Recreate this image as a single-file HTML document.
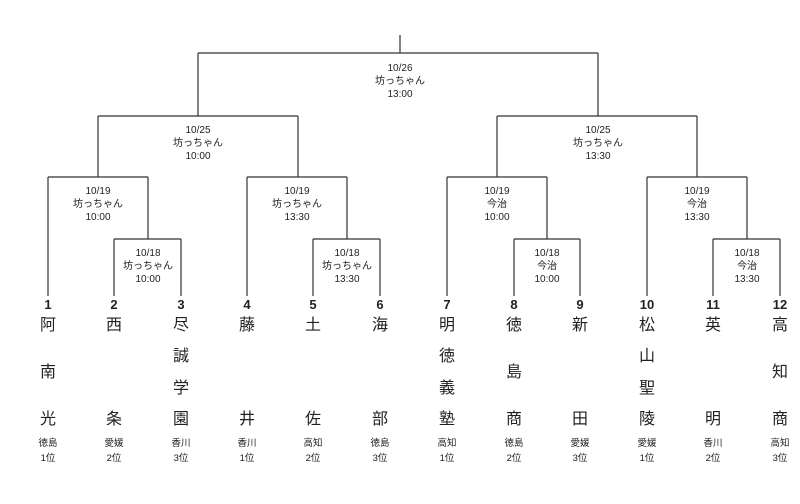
<!DOCTYPE html>
<html><head><meta charset="utf-8"><style>
body{margin:0;background:#fff;}
#c{position:relative;width:800px;height:504px;overflow:hidden;font-family:"Liberation Sans","Noto Sans CJK JP",sans-serif;color:#222;}
.l{position:absolute;width:100px;margin-left:-50px;text-align:center;font-size:10px;line-height:13px;}
.t{position:absolute;width:40px;margin-left:-20px;text-align:center;}
.n{font-size:13px;font-weight:bold;line-height:14px;}
.k{font-size:16px;line-height:18px;}
.p{font-size:9.5px;line-height:15px;}
svg{position:absolute;left:0;top:0;}
</style></head><body><div id="c">
<svg width="800" height="504"><g stroke="#333" stroke-width="1.2" fill="none">
<path d="M400 35V53M198 53H598M198 53V116M598 53V116"/>
<path d="M98 116H298M98 116V177M298 116V177M497 116H697M497 116V177M697 116V177"/>
<path d="M48 177H148M48 177V296M148 177V239M114 239H181M114 239V296M181 239V296"/>
<path d="M247 177H347M247 177V296M347 177V239M313 239H380M313 239V296M380 239V296"/>
<path d="M447 177H547M447 177V296M547 177V239M514 239H580M514 239V296M580 239V296"/>
<path d="M647 177H747M647 177V296M747 177V239M713 239H780M713 239V296M780 239V296"/>
</g></svg>
<div class="l" style="left:400px;top:62px">10/26<br>坊っちゃん<br>13:00</div>
<div class="l" style="left:198px;top:124px">10/25<br>坊っちゃん<br>10:00</div>
<div class="l" style="left:598px;top:124px">10/25<br>坊っちゃん<br>13:30</div>
<div class="l" style="left:98px;top:185px">10/19<br>坊っちゃん<br>10:00</div>
<div class="l" style="left:297px;top:185px">10/19<br>坊っちゃん<br>13:30</div>
<div class="l" style="left:497px;top:185px">10/19<br>今治<br>10:00</div>
<div class="l" style="left:697px;top:185px">10/19<br>今治<br>13:30</div>
<div class="l" style="left:148px;top:247px">10/18<br>坊っちゃん<br>10:00</div>
<div class="l" style="left:347px;top:247px">10/18<br>坊っちゃん<br>13:30</div>
<div class="l" style="left:547px;top:247px">10/18<br>今治<br>10:00</div>
<div class="l" style="left:747px;top:247px">10/18<br>今治<br>13:30</div>

<div class="t n" style="left:48px;top:298px">1</div>
<div class="t n" style="left:114px;top:298px">2</div>
<div class="t n" style="left:181px;top:298px">3</div>
<div class="t n" style="left:247px;top:298px">4</div>
<div class="t n" style="left:313px;top:298px">5</div>
<div class="t n" style="left:380px;top:298px">6</div>
<div class="t n" style="left:447px;top:298px">7</div>
<div class="t n" style="left:514px;top:298px">8</div>
<div class="t n" style="left:580px;top:298px">9</div>
<div class="t n" style="left:647px;top:298px">10</div>
<div class="t n" style="left:713px;top:298px">11</div>
<div class="t n" style="left:780px;top:298px">12</div>

<div class="t k" style="left:48px;top:317px">阿</div><div class="t k" style="left:48px;top:364px">南</div><div class="t k" style="left:48px;top:411px">光</div>
<div class="t k" style="left:114px;top:317px">西</div><div class="t k" style="left:114px;top:411px">条</div>
<div class="t k" style="left:181px;top:317px">尽</div><div class="t k" style="left:181px;top:348px">誠</div><div class="t k" style="left:181px;top:380px">学</div><div class="t k" style="left:181px;top:411px">園</div>
<div class="t k" style="left:247px;top:317px">藤</div><div class="t k" style="left:247px;top:411px">井</div>
<div class="t k" style="left:313px;top:317px">土</div><div class="t k" style="left:313px;top:411px">佐</div>
<div class="t k" style="left:380px;top:317px">海</div><div class="t k" style="left:380px;top:411px">部</div>
<div class="t k" style="left:447px;top:317px">明</div><div class="t k" style="left:447px;top:348px">徳</div><div class="t k" style="left:447px;top:380px">義</div><div class="t k" style="left:447px;top:411px">塾</div>
<div class="t k" style="left:514px;top:317px">徳</div><div class="t k" style="left:514px;top:364px">島</div><div class="t k" style="left:514px;top:411px">商</div>
<div class="t k" style="left:580px;top:317px">新</div><div class="t k" style="left:580px;top:411px">田</div>
<div class="t k" style="left:647px;top:317px">松</div><div class="t k" style="left:647px;top:348px">山</div><div class="t k" style="left:647px;top:380px">聖</div><div class="t k" style="left:647px;top:411px">陵</div>
<div class="t k" style="left:713px;top:317px">英</div><div class="t k" style="left:713px;top:411px">明</div>
<div class="t k" style="left:780px;top:317px">高</div><div class="t k" style="left:780px;top:364px">知</div><div class="t k" style="left:780px;top:411px">商</div>

<div class="t p" style="left:48px;top:436px">徳島<br>1位</div>
<div class="t p" style="left:114px;top:436px">愛媛<br>2位</div>
<div class="t p" style="left:181px;top:436px">香川<br>3位</div>
<div class="t p" style="left:247px;top:436px">香川<br>1位</div>
<div class="t p" style="left:313px;top:436px">高知<br>2位</div>
<div class="t p" style="left:380px;top:436px">徳島<br>3位</div>
<div class="t p" style="left:447px;top:436px">高知<br>1位</div>
<div class="t p" style="left:514px;top:436px">徳島<br>2位</div>
<div class="t p" style="left:580px;top:436px">愛媛<br>3位</div>
<div class="t p" style="left:647px;top:436px">愛媛<br>1位</div>
<div class="t p" style="left:713px;top:436px">香川<br>2位</div>
<div class="t p" style="left:780px;top:436px">高知<br>3位</div>
</div></body></html>
